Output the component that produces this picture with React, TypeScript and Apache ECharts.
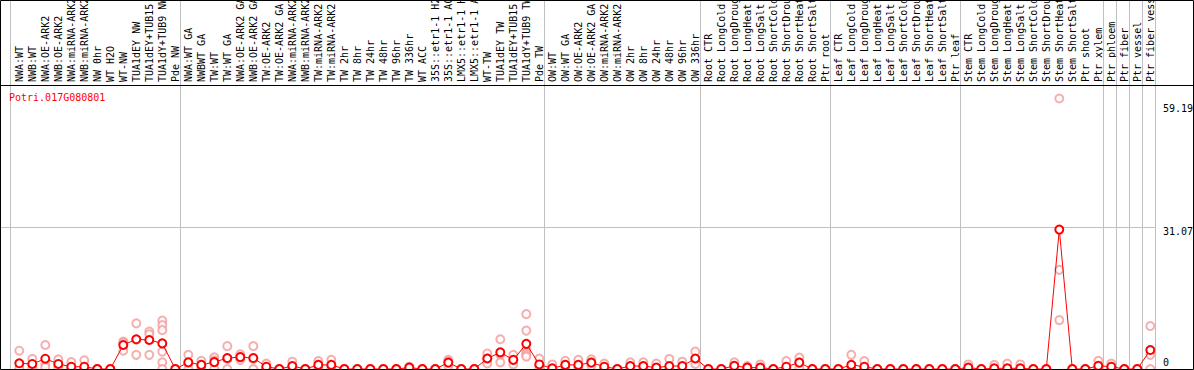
import React, { useEffect, useRef } from 'react';
import * as echarts from 'echarts';

const categories = [
  'NWA:WT', 'NWB:WT', 'NWA:OE-ARK2', 'NWB:OE-ARK2', 'NWA:miRNA-ARK2', 'NWB:miRNA-ARK2', 'NW 0hr', 'WT H2O', 'WT-NW',
  'TUA1dEY NW', 'TUA1dEY+TUB15 NW', 'TUA1dY+TUB9 NW', 'Pde NW',
  'NWA:WT GA', 'NWBWT GA', 'TW:WT', 'TW:WT GA', 'NWA:OE-ARK2 GA', 'NWB:OE-ARK2 GA', 'TW:OE-ARK2', 'TW:OE-ARK2 GA',
  'NWA:miRNA-ARK2', 'NWB:miRNA-ARK2', 'TW:miRNA-ARK2', 'TW:miRNA-ARK2', 'TW 2hr', 'TW 8hr', 'TW 24hr', 'TW 48hr',
  'TW 96hr', 'TW 336hr', 'WT ACC', '35S::etr1-1 H2O', '35S::etr1-1 ACC', 'LMX5::etr1-1 H2O', 'LMX5::etr1-1 ACC',
  'WT-TW', 'TUA1dEY TW', 'TUA1dEY+TUB15 TW', 'TUA1dY+TUB9 TW', 'Pde TW',
  'OW:WT', 'OW:WT GA', 'OW:OE-ARK2', 'OW:OE-ARK2 GA', 'OW:miRNA-ARK2', 'OW:miRNA-ARK2', 'OW 2hr', 'OW 8hr',
  'OW 24hr', 'OW 48hr', 'OW 96hr', 'OW 336hr',
  'Root CTR', 'Root LongCold', 'Root LongDrought', 'Root LongHeat', 'Root LongSalt', 'Root ShortCold',
  'Root ShortDrought', 'Root ShortHeat', 'Root ShortSalt', 'Ptr root',
  'Leaf CTR', 'Leaf LongCold', 'Leaf LongDrought', 'Leaf LongHeat', 'Leaf LongSalt', 'Leaf ShortCold',
  'Leaf ShortDrought', 'Leaf ShortHeat', 'Leaf ShortSalt', 'Ptr leaf',
  'Stem CTR', 'Stem LongCold', 'Stem LongDrought', 'Stem LongHeat', 'Stem LongSalt', 'Stem ShortCold',
  'Stem ShortDrought', 'Stem ShortHeat', 'Stem ShortSalt', 'Ptr shoot', 'Ptr xylem',
  'Ptr phloem', 'Ptr fiber', 'Ptr vessel', 'Ptr fiber vessel',
];

const means = [
  1.25, 1.1, 2.25, 1.1, 0.5, 0.5, 0, 0, 5.25, 6.5, 6.35, 5.6, 0,
  1.45, 0.9, 1.5, 2.4, 2.6, 2.4, 0.5, 0, 0.65, 0, 0.9, 0.9, 0, 0, 0, 0, 0, 0.3, 0, 0, 1.4, 0, 0, 2.3, 3.65, 2.0, 5.5, 1.0,
  0.15, 0.9, 0.9, 1.4, 0.5, 0, 0.65, 0.65, 0.3, 0.65, 0.65, 2.3,
  0, 0, 0.7, 0.3, 0.3, 0, 0.5, 1.4, 0, 0,
  0, 0.9, 0.5, 0, 0, 0, 0, 0, 0, 0,
  0.3, 0, 0.15, 0.15, 0.15, 0, 0, 30.5, 0, 0, 0.7,
  0.5, 0, 0, 4.15,
];

const replicates = [
  [4.0, 0, 0], [2.2, 1.0, 0.1], [5.25, 1.1, 0.4], [2.1, 0.9, 0.3], [1.5, 0, 0], [1.9, 0, 0], [0, 0, 0], [0, 0, 0],
  [6.0, 4.0, 5.75], [10.0, 3.1, 6.4], [8.2, 7.6, 3.1], [10.6, 9.6, 8.5, 3.8, 1.46, 0], [0, 0, 0],
  [3.1, 1.2, 0], [1.8, 0.9, 0], [2.55, 1.9, 0], [5.0, 2.2, 0], [3.2, 2.6, 2.0], [5.0, 2.2, 0], [1.2, 0.3, 0], [0, 0, 0],
  [1.6, 0.35, 0], [0, 0, 0], [1.75, 0.9, 0], [2.0, 0.7, 0], [0, 0, 0], [0, 0, 0], [0, 0, 0], [0, 0, 0], [0, 0, 0],
  [0.5, 0.4, 0], [0, 0, 0], [0, 0, 0], [2.0, 1.6, 0.6], [0, 0, 0], [0, 0, 0], [3.4, 2.3, 1.2], [6.5, 3.1, 1.46],
  [3.1, 1.9, 1.0], [12.0, 8.4, 4.2, 3.6, 3.1, 2.7], [2.3, 0.7, 0],
  [1.0, 0, 0], [1.8, 0.9, 0], [2.0, 0.7, 0], [2.1, 1.4, 0.7], [1.2, 0.3, 0], [0, 0, 0], [1.46, 0.5, 0], [1.46, 0.5, 0],
  [1.2, 0, 0], [2.2, 0, 0], [1.6, 0.35, 0], [3.8, 2.0, 1.1],
  [0, 0, 0], [0, 0, 0], [1.46, 0.65, 0], [0.65, 0.3, 0], [1.0, 0, 0], [0, 0, 0], [1.75, 0, 0], [2.5, 1.4, 0.3],
  [0, 0, 0], [0, 0, 0],
  [0, 0, 0], [3.1, 0, 0], [1.75, 0, 0], [0, 0, 0], [0, 0, 0], [0, 0, 0], [0, 0, 0], [0, 0, 0], [0, 0, 0], [0, 0, 0],
  [1.0, 0, 0], [0, 0, 0], [0.9, 0, 0], [1.2, 0, 0], [1.0, 0, 0], [0, 0, 0], [0, 0, 0], [59.19, 21.7, 10.7], [0, 0, 0],
  [0, 0, 0], [1.8, 0.3, 0],
  [1.2, 0.3, 0], [0, 0, 0], [0, 0, 0], [9.4, 3.1, 0],
];

const groupEnds = [13, 41, 53, 63, 73, 84, 85, 86, 87, 88];
const yTickValues = [59.19, 31.07, 0];
const yTickLabels = ['59.19', '31.07', '0'];
const gridLineValue = 31.07;
const geneName = 'Potri.017G080801';
const yMax = 62.14;

const W = 1194;
const H = 370;
const FONT = '"DejaVu Sans Mono", monospace';

export default function App() {
  const ref = useRef<HTMLDivElement>(null);
  useEffect(() => {
    const chart = echarts.init(ref.current!, null, { renderer: 'svg' });
    const scatterData: number[][] = [];
    replicates.forEach((reps, i) => reps.forEach((v) => scatterData.push([i, v])));
    chart.setOption({
      animation: false,
      grid: { left: 12.8, right: 37.2, top: 85, bottom: 1, containLabel: false, outerBoundsMode: 'none' },
      xAxis: {
        type: 'category',
        data: categories,
        position: 'top',
        boundaryGap: true,
        axisLine: { show: false },
        axisTick: { show: false },
        splitLine: { show: false },
        axisLabel: {
          rotate: 90,
          interval: 0,
          fontFamily: FONT,
          fontSize: 10,
          color: '#000',
          margin: 3,
          hideOverlap: false,
        },
      },
      yAxis: { type: 'value', min: 0, max: yMax, show: false },
      series: [
        {
          type: 'scatter',
          data: scatterData,
          symbol: 'emptyCircle',
          symbolSize: 8,
          silent: true,
          itemStyle: { color: '#f29b9b', borderColor: '#f29b9b', borderWidth: 1.3 },
          z: 2,
        },
        {
          type: 'line',
          data: means,
          symbol: 'emptyCircle',
          symbolSize: 8,
          silent: true,
          lineStyle: { color: '#ff0000', width: 1 },
          itemStyle: { color: '#ff0000', borderColor: '#e00000', borderWidth: 1.6 },
          z: 3,
        },
      ],
    });

    const pt = (i: number, v: number) => chart.convertToPixel({ gridIndex: 0 }, [i, v]) as number[];
    const gray = '#c0c0c0';
    const graphics: any[] = [];
    const vline = (x: number, color: string) => ({
      type: 'line',
      shape: { x1: x, y1: 0, x2: x, y2: 369 },
      style: { stroke: color, lineWidth: 1 },
      z: 1,
    });
    const first = pt(0, 0);
    graphics.push(vline(Math.round(first[0] - 9.3) + 0.5, gray));
    groupEnds.forEach((g) => {
      const p = pt(g - 1, 0);
      graphics.push(vline(Math.round(p[0] + 5) + 0.5, gray));
    });
    const gl = pt(0, gridLineValue);
    const lastSep = pt(groupEnds[groupEnds.length - 1] - 1, 0)[0] + 5;
    graphics.push({
      type: 'line',
      shape: { x1: 0, y1: Math.round(gl[1]) + 0.5, x2: Math.round(lastSep) + 0.5, y2: Math.round(gl[1]) + 0.5 },
      style: { stroke: gray, lineWidth: 1 },
      z: 1,
    });
    graphics.push({
      type: 'line',
      shape: { x1: 0, y1: 85.5, x2: W, y2: 85.5 },
      style: { stroke: '#000', lineWidth: 1 },
      z: 5,
    });
    graphics.push({
      type: 'rect',
      shape: { x: 0.5, y: 0.5, width: W - 1, height: 369 },
      style: { stroke: '#000', fill: 'none', lineWidth: 1 },
      z: 5,
    });
    graphics.push({
      type: 'text',
      style: { text: geneName, x: 9, y: 97, fill: '#ff0000', font: `10px ${FONT}`, align: 'left', verticalAlign: 'middle' },
      z: 6,
    });
    const offsets = [10, 4, -7];
    yTickValues.forEach((v, k) => {
      const p = pt(0, v);
      graphics.push({
        type: 'text',
        style: {
          text: yTickLabels[k],
          x: 1163,
          y: p[1] + offsets[k],
          fill: '#000',
          font: `10px ${FONT}`,
          align: 'left',
          verticalAlign: 'middle',
        },
        z: 6,
      });
    });
    chart.setOption({ graphic: graphics });
    return () => chart.dispose();
  }, []);
  return <div ref={ref} style={{ position: 'fixed', left: 0, top: 0, width: W, height: H, background: '#fff' }} />;
}
